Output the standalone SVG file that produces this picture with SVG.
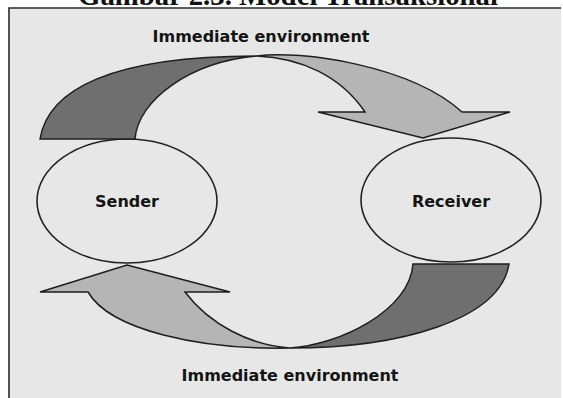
<svg xmlns="http://www.w3.org/2000/svg" width="563" height="398" viewBox="0 0 563 398">
<style>
.frame{fill:#e7e7e7;stroke:none}
.border{stroke:#2a2a2a;stroke-width:1.6;fill:none}
.node{fill:#e7e7e7;stroke:#222;stroke-width:1.6}
.dark{fill:#6f6f6f;stroke:#1e1e1e;stroke-width:1.5;stroke-linejoin:miter}
.light{fill:#b5b5b5;stroke:#1e1e1e;stroke-width:1.5;stroke-linejoin:miter}
.lbl{font-family:"DejaVu Sans",Verdana,sans-serif;font-weight:bold;font-size:16px;fill:#141414}
.title{font-family:"Liberation Serif","Times New Roman",serif;font-weight:bold;font-size:28.8px;fill:#111}
</style>
<rect x="0" y="0" width="563" height="398" fill="#ffffff"/>
<text class="title" x="288" y="5" text-anchor="middle">Gambar 2.3. Model Transaksional</text>
<rect class="frame" x="9" y="8" width="552" height="392"/>
<path class="border" d="M9,400 V8 H561"/>
<g id="sender">
<ellipse class="node" cx="127" cy="201" rx="90" ry="62"/>
<text class="lbl" x="127" y="207" text-anchor="middle">Sender</text>
</g>
<g id="receiver">
<ellipse class="node" cx="451" cy="200" rx="90" ry="62"/>
<text class="lbl" x="451" y="207" text-anchor="middle">Receiver</text>
</g>
<g id="connectors">
<path class="dark" d="M40,139 C48,90 110,56 257,56 C190,62 138,100 135,139 Z"/>
<path class="light" d="M257,56 C300,50 410,65 462,112 L510,112 L423,138 L318,112 L365,112 C340,75 300,58 257,56 Z"/>
<path class="light" d="M127,265 L230,292 L185,292 C210,325 250,345 290,348 C200,350 110,330 88,292 L40,292 Z"/>
<path class="dark" d="M413,264 L509,264 C500,320 400,348 290,348 C340,345 410,310 413,264 Z"/>
</g>
<text class="lbl" x="261" y="42" text-anchor="middle">Immediate environment</text>
<text class="lbl" x="290" y="381" text-anchor="middle">Immediate environment</text>
</svg>
